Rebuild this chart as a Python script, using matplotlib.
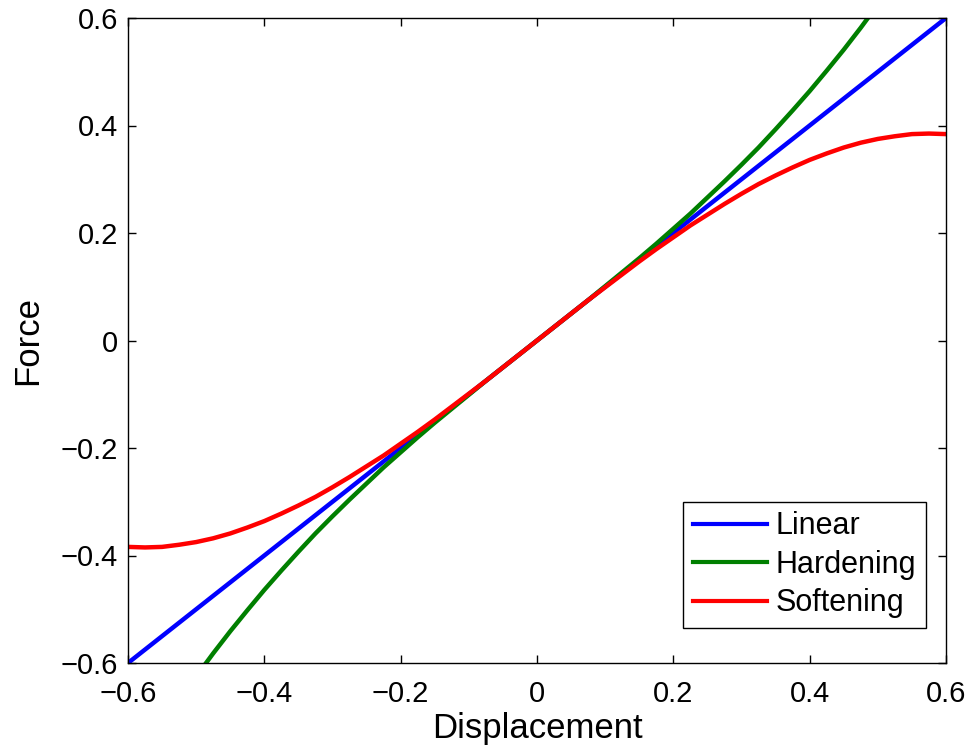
import matplotlib
matplotlib.use('Agg')
import matplotlib.pyplot as plt

plt.rcParams['font.family'] = ['Liberation Sans', 'DejaVu Sans']

# values
disp = [-0.6, -0.575, -0.55, -0.525, -0.5, -0.475, -0.45, -0.425, -0.4, -0.375, -0.35, -0.325,
        -0.3, -0.275, -0.25, -0.225, -0.2, -0.175, -0.15, -0.125, -0.1, -0.075, -0.05, -0.025,
        0.0, 0.025, 0.05, 0.075, 0.1, 0.125, 0.15, 0.175, 0.2, 0.225, 0.25, 0.275,
        0.3, 0.325, 0.35, 0.375, 0.4, 0.425, 0.45, 0.475, 0.5, 0.525, 0.55, 0.575, 0.6]
linear = list(disp)  # straight line through the origin, force equals displacement
hardening = [-0.816, -0.765, -0.716, -0.670, -0.625, -0.582, -0.541, -0.502, -0.464, -0.428, -0.393, -0.359,
             -0.327, -0.296, -0.266, -0.236, -0.208, -0.180, -0.153, -0.127, -0.101, -0.075, -0.050, -0.025,
             0.0, 0.025, 0.050, 0.075, 0.101, 0.127, 0.153, 0.180, 0.208, 0.236, 0.266, 0.296,
             0.327, 0.359, 0.393, 0.428, 0.464, 0.502, 0.541, 0.582, 0.625, 0.670, 0.716, 0.765, 0.816]
softening = [-0.384, -0.385, -0.384, -0.380, -0.375, -0.368, -0.359, -0.348, -0.336, -0.322, -0.307, -0.291,
             -0.273, -0.254, -0.234, -0.214, -0.192, -0.170, -0.147, -0.123, -0.099, -0.075, -0.050, -0.025,
             0.0, 0.025, 0.050, 0.075, 0.099, 0.123, 0.147, 0.170, 0.192, 0.214, 0.234, 0.254,
             0.273, 0.291, 0.307, 0.322, 0.336, 0.348, 0.359, 0.368, 0.375, 0.380, 0.384, 0.385, 0.384]
ticks = [-0.6, -0.4, -0.2, 0, 0.2, 0.4, 0.6]
tick_labels = ['\u22120.6', '\u22120.4', '\u22120.2', '0', '0.2', '0.4', '0.6']

fig = plt.figure(figsize=(9.69, 7.46), dpi=100)
ax = fig.add_axes([128 / 969, 1 - 663 / 746, 818 / 969, 645 / 746])

ax.plot(disp, linear, color='#0000ff', lw=3.2, label='Linear')
ax.plot(disp, hardening, color='#007f00', lw=3.2, label='Hardening')
ax.plot(disp, softening, color='#ff0000', lw=3.2, label='Softening')

ax.set_xlim(-0.6, 0.6)
ax.set_ylim(-0.6, 0.6)
ax.set_xticks(ticks)
ax.set_xticklabels(tick_labels)
ax.set_yticks(ticks)
ax.set_yticklabels(tick_labels)
ax.tick_params(direction='in', top=True, right=True, length=6, width=1, labelsize=21)
ax.tick_params(axis='x', pad=12)
ax.tick_params(axis='y', pad=7)
for s in ax.spines.values():
    s.set_linewidth(1)

ax.set_xlabel('Displacement', fontsize=25, labelpad=3)
ax.set_ylabel('Force', fontsize=25, labelpad=12)

leg = ax.legend(loc='lower right', fontsize=22, fancybox=False, edgecolor='black',
                handlelength=2.4, handletextpad=0.3, borderpad=0.32, labelspacing=0.28,
                borderaxespad=0, bbox_to_anchor=(0.9756, 0.054))
leg.get_frame().set_linewidth(1)
leg.get_frame().set_alpha(1)
for line in leg.get_lines():
    line.set_linewidth(3)

fig.savefig('out.png', dpi=100)
